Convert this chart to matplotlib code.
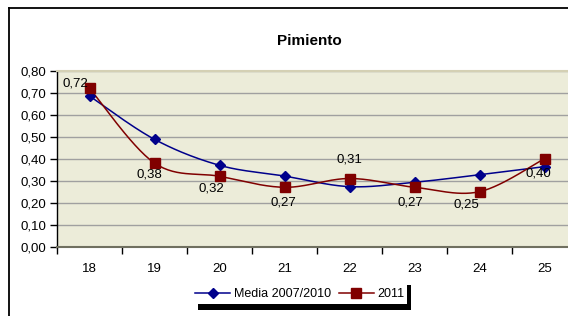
import numpy as np
import matplotlib
matplotlib.use("Agg")
import matplotlib.pyplot as plt
from matplotlib.lines import Line2D
from matplotlib.patches import Rectangle

plt.rcParams['font.family'] = ['Liberation Sans', 'DejaVu Sans']

categories = ["18", "19", "20", "21", "22", "23", "24", "25"]
media = [0.685, 0.488, 0.370, 0.321, 0.273, 0.293, 0.327, 0.364]
y2011 = [0.72, 0.38, 0.32, 0.27, 0.31, 0.27, 0.25, 0.40]
label_offsets = [(-14, 5), (-5, -11), (-8, -12), (-1, -15), (0, 19), (-4, -15), (-13, -13), (-6, -15)]
yticks = [0.0, 0.1, 0.2, 0.3, 0.4, 0.5, 0.6, 0.7, 0.8]

W, H = 568, 316
fig = plt.figure(figsize=(W / 100, H / 100), dpi=100)

# axes in pixel coordinates: left 57, right 577, top 70.7, bottom 246.7
L, R, T, B = 57, 577, 70.7, 246.7
ax = fig.add_axes([L / W, 1 - B / H, (R - L) / W, (B - T) / H])
ax.set_facecolor('#ECECD9')
ax.set_xlim(-0.5, len(categories) - 0.5)
ax.set_ylim(0, 0.8)

xs = np.arange(len(categories))


def smooth(x, y, n=30):
    # Catmull-Rom style Bezier smoothing computed in pixel-like space
    sx, sy = 65.0, 220.0
    P = np.column_stack([np.asarray(x) * sx, np.asarray(y) * sy])
    out = []
    for i in range(len(P) - 1):
        p0 = P[i - 1] if i > 0 else P[i]
        p1 = P[i]
        p2 = P[i + 1]
        p3 = P[i + 2] if i + 2 < len(P) else P[i + 1]
        c1 = p1 + (p2 - p0) / 6.0
        c2 = p2 - (p3 - p1) / 6.0
        t = np.linspace(0, 1, n)[:, None]
        seg = ((1 - t) ** 3) * p1 + 3 * ((1 - t) ** 2) * t * c1 + 3 * (1 - t) * t ** 2 * c2 + t ** 3 * p2
        out.append(seg if i == 0 else seg[1:])
    pts = np.vstack(out)
    return pts[:, 0] / sx, pts[:, 1] / sy


for v in yticks[1:]:
    ax.axhline(v, color='#A0A0A0', lw=1.0, zorder=1)

blue = '#00008B'
red = '#800000'
mx, my = smooth(xs, media)
ax.plot(mx, my, color=blue, lw=1.1, zorder=3)
ax.plot(xs, media, ls='none', marker='D', ms=5, color=blue, zorder=4)
rx, ry = smooth(xs, y2011)
ax.plot(rx, ry, color=red, lw=1.1, zorder=3)
ax.plot(xs, y2011, ls='none', marker='s', ms=7, color=red, zorder=5)

for x, v, off in zip(xs, y2011, label_offsets):
    ax.annotate(f"{v:.2f}".replace('.', ','), (x, v), xytext=off, textcoords='offset pixels',
                ha='center', va='center', fontsize=9.5, color='#000000', zorder=6)

ax.set_yticks(yticks)
ax.set_yticklabels([f"{v:.2f}".replace('.', ',') for v in yticks], fontsize=9.5)
ax.set_xticks(xs)
ax.set_xticklabels(categories, fontsize=9.5)
ax.set_xticks(np.arange(-0.5, len(categories), 1.0), minor=True)
ax.tick_params(axis='x', which='major', length=0, pad=12)
ax.tick_params(axis='x', which='minor', length=5, width=1, color='#000000', direction='out')
ax.tick_params(axis='y', length=5, width=1, color='#000000', direction='out', pad=3)

for s in ['right']:
    ax.spines[s].set_visible(False)
ax.spines['top'].set_color('#D4D0B4')
ax.spines['top'].set_linewidth(1.5)
ax.spines['left'].set_color('#000000')
ax.spines['left'].set_linewidth(1.0)
ax.spines['bottom'].set_color('#707060')
ax.spines['bottom'].set_linewidth(1.5)

fig.text(309 / W, 1 - 41 / H, "Pimiento", ha='center', va='center', fontsize=11, fontweight='bold')

# outer chart frame (top and left edges visible)
fig.add_artist(Line2D([9 / W, 1.0], [1 - 8 / H, 1 - 8 / H], color='black', lw=1.3, transform=fig.transFigure))
fig.add_artist(Line2D([9 / W, 9 / W], [1 - 8 / H, 0], color='black', lw=1.3, transform=fig.transFigure))

# legend box with shadow
fig.add_artist(Rectangle((198 / W, 1 - 309.5 / H), (410.7 - 198) / W, (309.5 - 285) / H,
                         transform=fig.transFigure, facecolor='black', edgecolor='none', zorder=10))
fig.add_artist(Rectangle((192 / W, 1 - 304.3 / H), (406.7 - 192) / W, (304.3 - 280) / H,
                         transform=fig.transFigure, facecolor='white', edgecolor='none', zorder=11))
handles = [Line2D([], [], color=blue, marker='D', ms=5, lw=1.1),
           Line2D([], [], color=red, marker='s', ms=7, lw=1.1)]
leg = fig.legend(handles, ["Media 2007/2010", "2011"], loc='center', bbox_to_anchor=(300 / W, 1 - 294 / H),
                 ncol=2, frameon=False, fontsize=9, handlelength=2.8, handletextpad=0.3, columnspacing=0.6)
leg.set_zorder(12)

fig.savefig("out.png", dpi=100)
